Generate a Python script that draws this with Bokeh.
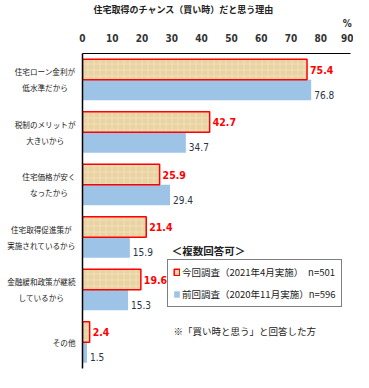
from bokeh.plotting import figure
from bokeh.models import (ColumnDataSource, LabelSet, Label, Legend, LegendItem,
                          Range1d, FixedTicker)
from bokeh.embed import file_html
from bokeh.resources import INLINE
from bokeh.core.properties import value

# ---- data ----
title_text = "住宅取得のチャンス（買い時）だと思う理由"
categories = ["住宅ローン金利が\n低水準だから", "税制のメリットが\n大きいから", "住宅価格が安く\nなったから",
              "住宅取得促進策が\n実施されているから", "金融緩和政策が継続\nしているから", "その他"]
current = [75.4, 42.7, 25.9, 21.4, 19.6, 2.4]
previous = [76.8, 34.7, 29.4, 15.9, 15.3, 1.5]
tick_values = [0, 10, 20, 30, 40, 50, 60, 70, 80, 90]
current_name = "今回調査（2021年4月実施）　n=501"
previous_name = "前回調査（2020年11月実施）n=596"
legend_header = "＜複数回答可＞"
note_text = "※「買い時と思う」と回答した方"
unit_text = "%"

JP = "Noto Sans CJK JP"
NUM = "DejaVu Sans Condensed"
BAR_H = 0.39


def centered(label):
    """Pad shorter lines on the right so that right-aligned lines look centred."""
    lines = label.split("\n")
    width = max(len(s) for s in lines)
    out = []
    for s in lines:
        pad = (width - len(s)) / 2
        full = int(pad)
        out.append(s + "\u3000" * full + ("\u2002" if pad - full >= 0.5 else ""))
    return "\n".join(out)


idx = list(range(len(categories)))
cur_y = [i - BAR_H / 2 for i in idx]
prev_y = [i + BAR_H / 2 for i in idx]

src_cur = ColumnDataSource(dict(y=cur_y, v=current, t=[f"{v:.1f}" for v in current]))
src_prev = ColumnDataSource(dict(y=prev_y, v=previous, t=[f"{v:.1f}" for v in previous]))

p = figure(width=353, height=372, output_backend="svg", toolbar_location=None,
           x_range=Range1d(0, 90), y_range=Range1d(5.5, -0.5),
           x_axis_location="above", title=title_text,
           min_border_left=82, min_border_right=3, min_border_top=53, min_border_bottom=4)
p.outline_line_color = None
p.grid.visible = False
p.background_fill_color = "white"
p.border_fill_color = "white"

p.title.align = "left"
p.title.offset = 11
p.title.standoff = 0
p.title.text_font = JP
p.title.text_font_style = "bold"
p.title.text_font_size = "9px"
p.title.text_color = "#222222"

r_prev = p.hbar(y="y", right="v", left=0, height=BAR_H, source=src_prev,
                fill_color="#9DC3E6", line_color=None)
r_cur = p.hbar(y="y", right="v", left=0, height=BAR_H, source=src_cur,
               fill_color="#EAD3A2", line_color="#FF0000", line_width=1.5,
               hatch_pattern="cross", hatch_color="#F6EBD0", hatch_scale=6, hatch_weight=1,
               hatch_alpha=0.5)

# top axis ("%" shown above the last tick label)
xa = p.xaxis[0]
xa.ticker = FixedTicker(ticks=tick_values)
xa.major_label_overrides = {tick_values[-1]: f"{unit_text}\n{tick_values[-1]}"}
xa.major_tick_line_color = None
xa.minor_tick_line_color = None
xa.axis_line_color = "black"
xa.axis_line_width = 1.2
xa.major_label_text_font = NUM
xa.major_label_text_font_style = "bold"
xa.major_label_text_font_size = "10px"
xa.major_label_text_color = "#333333"
xa.major_label_text_line_height = 1.3
xa.major_label_standoff = 4

# left axis with category labels
ya = p.yaxis[0]
ya.ticker = FixedTicker(ticks=idx)
ya.major_label_overrides = {i: centered(c) for i, c in zip(idx, categories)}
ya.major_tick_line_color = None
ya.minor_tick_line_color = None
ya.major_label_text_font = JP
ya.major_label_text_font_size = "7.6px"
ya.major_label_text_color = "#1A1A1A"
ya.major_label_text_line_height = 1.45
ya.major_label_standoff = 1
ya.axis_line_color = "black"
ya.axis_line_width = 1.5

# value labels
p.add_layout(LabelSet(x="v", y="y", text="t", source=src_cur, x_offset=3,
                      text_baseline="middle", text_font=value(NUM), text_font_style="bold",
                      text_font_size="10.5px", text_color="#FF0000"))
p.add_layout(LabelSet(x="v", y="y", text="t", source=src_prev, x_offset=3, y_offset=-5,
                      text_baseline="middle", text_font=value(NUM),
                      text_font_size="10px", text_color="#2B3445"))

# header, note
p.add_layout(Label(x=42.3, y=3.25, text=legend_header, text_align="center", text_baseline="middle",
                   text_font=JP, text_font_style="bold", text_font_size="10.5px", text_color="#222222"))
p.add_layout(Label(x=30.6, y=4.78, text=note_text, text_align="left", text_baseline="middle",
                   text_font=JP, text_font_size="9.5px", text_color="#222222"))

legend = Legend(items=[LegendItem(label=current_name, renderers=[r_cur]),
                       LegendItem(label=previous_name, renderers=[r_prev])],
                location=(85, 61), orientation="vertical",
                border_line_color="black", border_line_width=1.5,
                background_fill_color="white", background_fill_alpha=1,
                label_text_font=JP, label_text_font_size="9.5px", label_text_color="#222222",
                glyph_width=7, glyph_height=8, label_standoff=2, label_height=14,
                spacing=8, padding=5, margin=0)
p.add_layout(legend)

open("out.html", "w").write(file_html(p, INLINE))
